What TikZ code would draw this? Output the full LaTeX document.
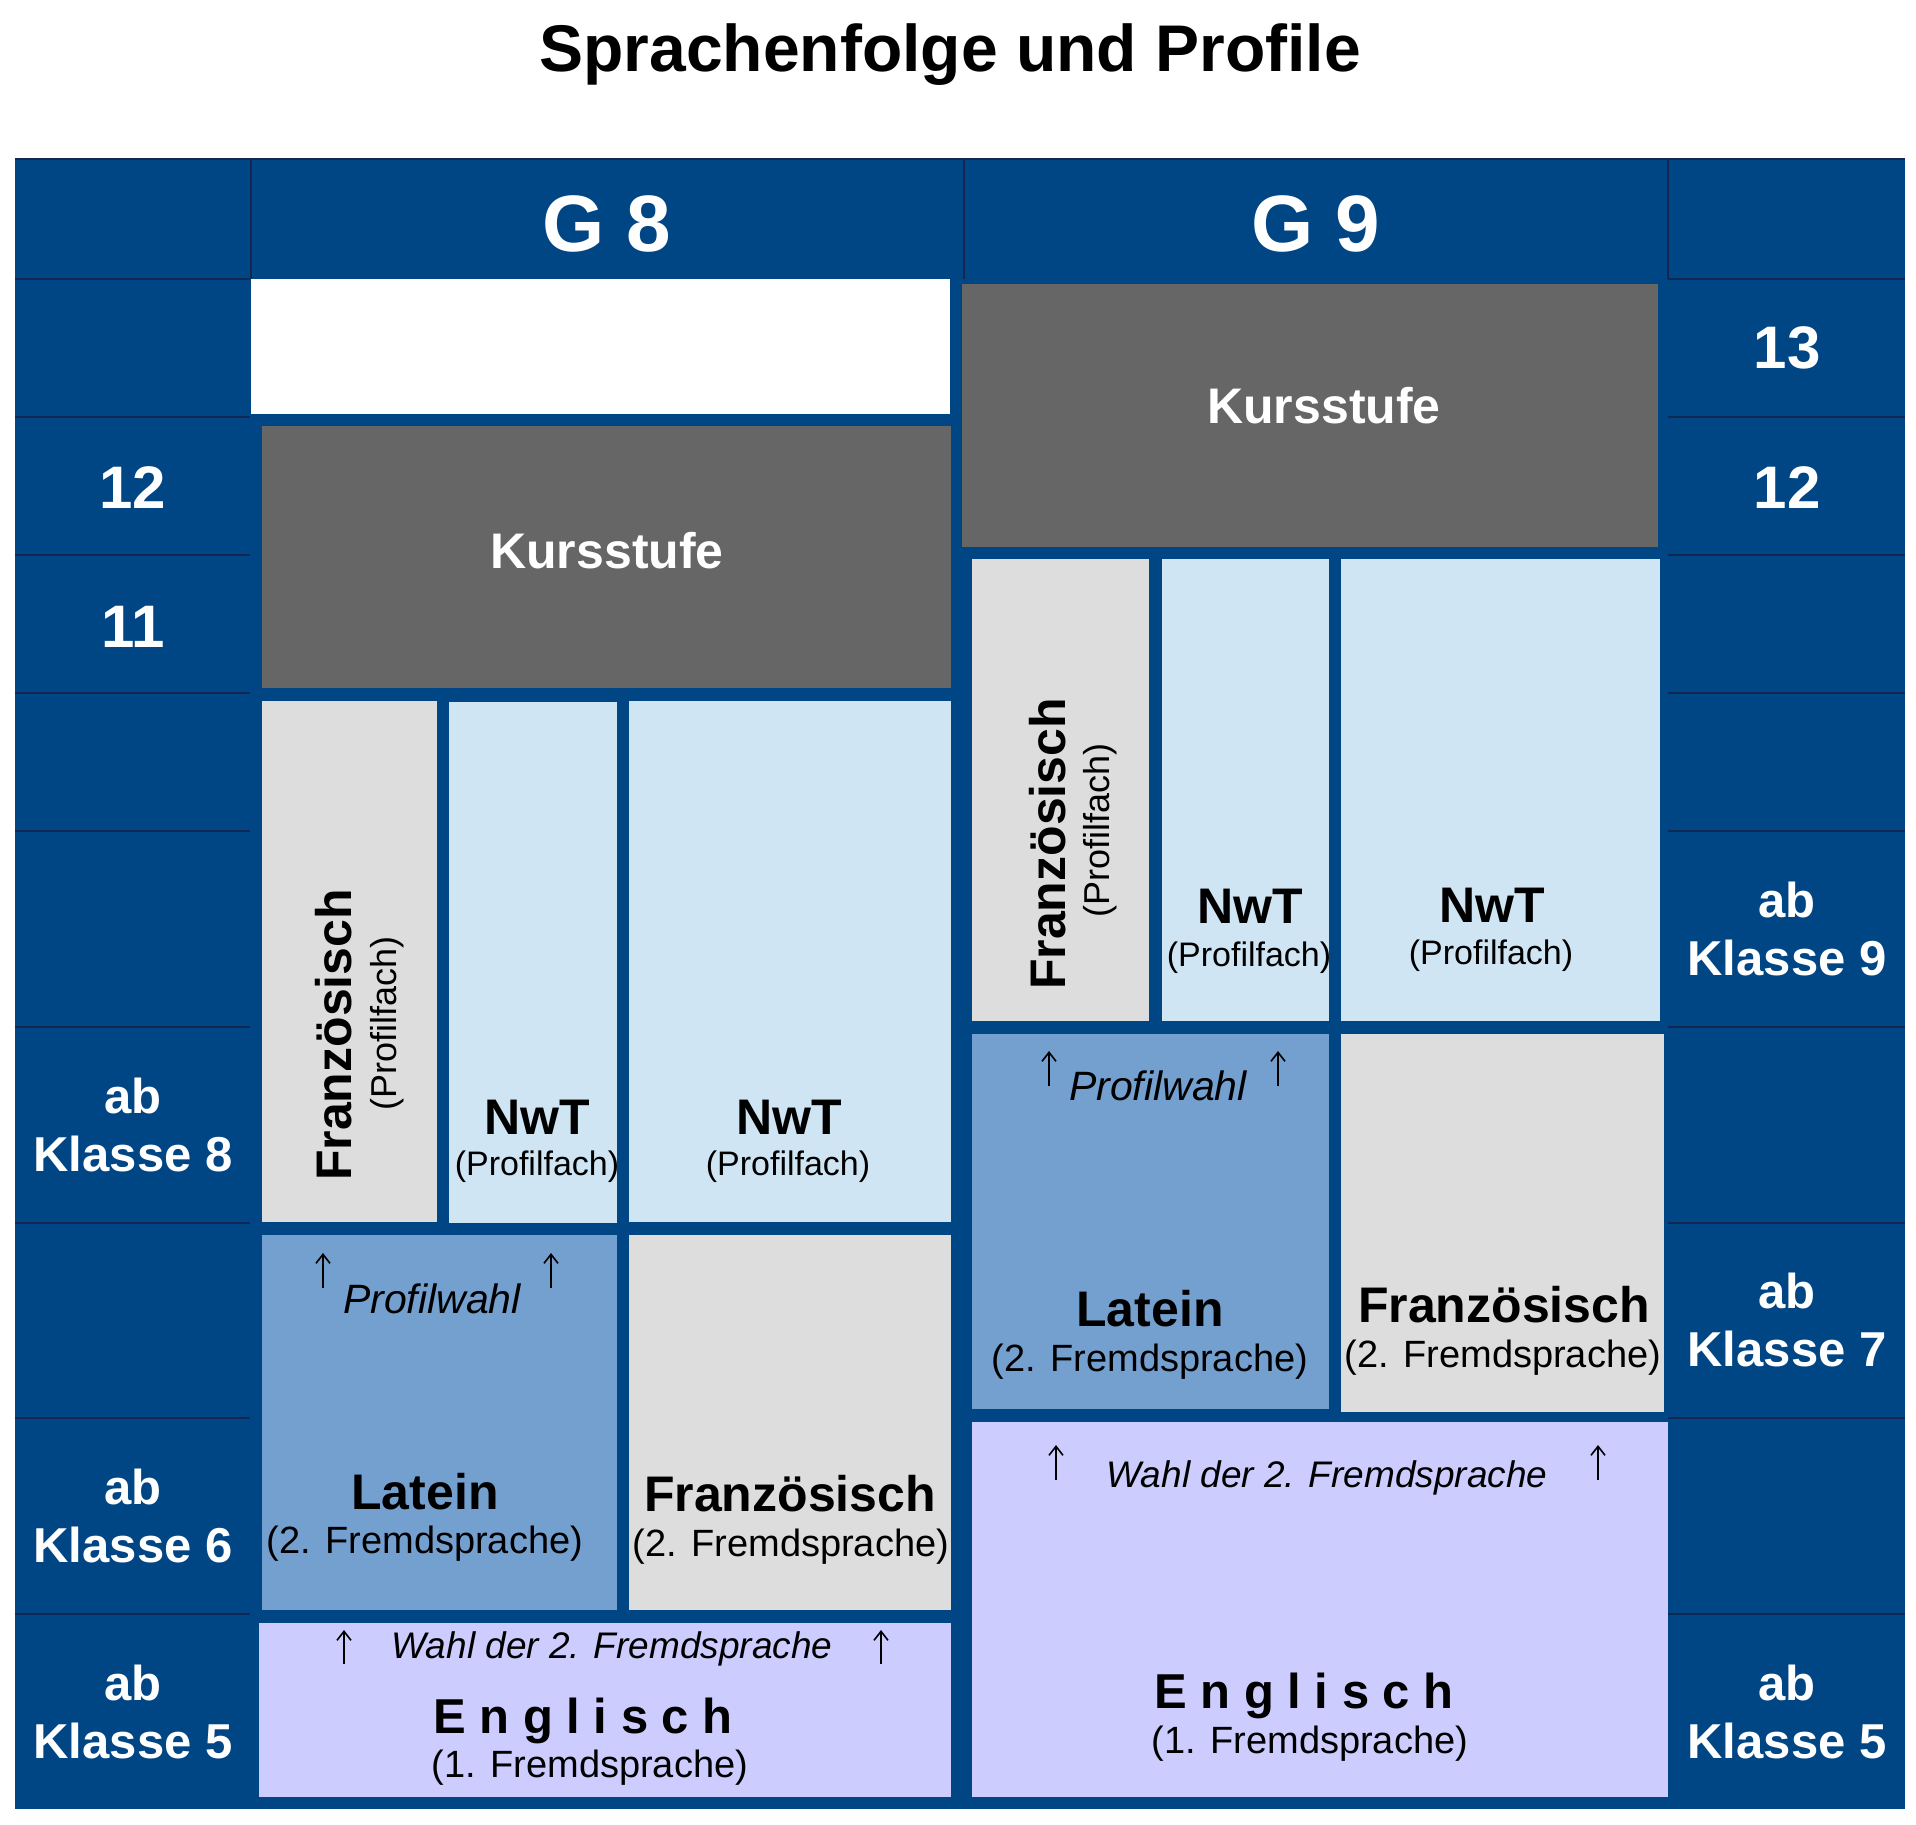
\documentclass[tikz,border=0pt]{standalone}
\usepackage{fontspec}
\setmainfont{Liberation Sans}
\usetikzlibrary{arrows.meta}
\definecolor{tblue}{RGB}{0,70,133}
\definecolor{tline}{RGB}{18,40,82}
\definecolor{kgray}{RGB}{102,102,102}
\definecolor{lgray}{RGB}{221,221,221}
\definecolor{lblue}{RGB}{207,229,244}
\definecolor{mblue}{RGB}{116,160,208}
\definecolor{lav}{RGB}{204,204,255}

\begin{document}
\begin{tikzpicture}[x=1pt,y=-1pt,
  lbl/.style={text=white,font=\bfseries\fontsize{49}{58}\selectfont,align=center},
  num/.style={anchor=base,text=white,font=\bfseries\fontsize{60}{72}\selectfont},
  fach/.style={anchor=base,font=\bfseries\fontsize{50}{60}\selectfont},
  sub/.style={anchor=base,font=\fontsize{38}{46}\selectfont},
  prof/.style={anchor=base,font=\fontsize{34}{40}\selectfont},
  wahl/.style={anchor=base,font=\itshape\fontsize{37}{44}\selectfont},
  pwahl/.style={anchor=base,font=\itshape\fontsize{41}{48}\selectfont},
  engl/.style={anchor=base,font=\bfseries\fontsize{49}{58}\selectfont},
  pfeil/.style={-{Straight Barb[length=9pt,width=14pt,line width=1.6pt]},line width=1.8pt},
  sep/.style={draw=tline,line width=1.5pt}]
\useasboundingbox (0,0) rectangle (1916,1824);
\fill[tblue] (15,159) rectangle (1905,1809);
\draw[sep] (15,159) -- (1905,159);
% Zeilen der Randspalten
\foreach \y in {279,417,555,693,831,1027,1223,1418,1614} {
  \draw[sep] (15,\y) -- (250,\y);
  \draw[sep] (1668,\y) -- (1905,\y);
}
\foreach \x in {251,964,1668} \draw[sep] (\x,159) -- (\x,279);

% G8
\fill[white] (251,279) rectangle (950,414);
\fill[kgray] (262,426) rectangle (951,688);
\fill[lgray] (262,701) rectangle (437,1222);
\fill[lblue] (449,702) rectangle (617,1223);
\fill[lblue] (629,701) rectangle (951,1222);
\fill[mblue] (262,1235) rectangle (617,1610);
\fill[lgray] (629,1235) rectangle (951,1610);
\fill[lav] (259,1623) rectangle (951,1797);
% G9
\fill[kgray] (962,284) rectangle (1658,547);
\fill[lgray] (972,559) rectangle (1149,1021);
\fill[lblue] (1162,559) rectangle (1329,1021);
\fill[lblue] (1341,559) rectangle (1660,1021);
\fill[mblue] (972,1034) rectangle (1329,1409);
\fill[lgray] (1341,1034) rectangle (1664,1412);
\fill[lav] (972,1422) rectangle (1668,1797);

\node[anchor=base,font=\bfseries\fontsize{66}{80}\selectfont] (titel) at (950,71) {Sprachenfolge und Profile};
\node[anchor=base,text=white,font=\bfseries\fontsize{80}{96}\selectfont] (g8) at (607,251) {G 8};
\node[anchor=base,text=white,font=\bfseries\fontsize{80}{96}\selectfont] (g9) at (1316,251) {G 9};
\node[fach,text=white] (ks8) at (607,568) {Kursstufe};
\node[fach,text=white] (ks9) at (1324,423) {Kursstufe};

\node[num] (n12l) at (133,508) {12};
\node[num] (n11) at (133,647) {11};
\node[num] (n13) at (1787,368) {13};
\node[num] (n12r) at (1787,508) {12};
\node[lbl] (k8) at (133,1125) {ab\\Klasse 8};
\node[lbl] (k6) at (133,1516) {ab\\Klasse 6};
\node[lbl] (k5l) at (133,1712) {ab\\Klasse 5};
\node[lbl] (k9) at (1787,929) {ab\\Klasse 9};
\node[lbl] (k7) at (1787,1320) {ab\\Klasse 7};
\node[lbl] (k5r) at (1787,1712) {ab\\Klasse 5};

% Profilfaecher
\node[fach,rotate=90] (fr8p) at (351,1035) {Französisch};
\node[prof,rotate=90,font=\fontsize{36}{42}\selectfont] (fr8ps) at (396,1023) {(Profilfach)};
\node[fach] (nw8a) at (537,1134) {NwT};
\node[prof] (nw8as) at (537,1175) {(Profilfach)};
\node[fach] (nw8b) at (789,1134) {NwT};
\node[prof] (nw8bs) at (788,1175) {(Profilfach)};
\node[fach,rotate=90] (fr9p) at (1065,844) {Französisch};
\node[prof,rotate=90,font=\fontsize{36}{42}\selectfont] (fr9ps) at (1109,830) {(Profilfach)};
\node[fach] (nw9a) at (1250,923) {NwT};
\node[prof] (nw9as) at (1249,966) {(Profilfach)};
\node[fach] (nw9b) at (1492,922) {NwT};
\node[prof] (nw9bs) at (1491,964) {(Profilfach)};

% 2. Fremdsprache
\node[pwahl] (pw8) at (432,1313) {Profilwahl};
\node[fach] (la8) at (425,1509) {Latein};
\node[sub] (la8s) at (425,1553) {(2. Fremdsprache)};
\node[fach] (fr8) at (790,1511) {Französisch};
\node[sub] (fr8s) at (791,1556) {(2. Fremdsprache)};
\node[pwahl] (pw9) at (1158,1100) {Profilwahl};
\node[fach] (la9) at (1150,1326) {Latein};
\node[sub] (la9s) at (1150,1371) {(2. Fremdsprache)};
\node[fach] (fr9) at (1504,1322) {Französisch};
\node[sub] (fr9s) at (1503,1367) {(2. Fremdsprache)};

% Englisch
\node[wahl] (wa8) at (612,1658) {Wahl der 2. Fremdsprache};
\node[engl] (en8) at (583,1733) {E n g l i s c h};
\node[sub] (en8s) at (590,1777) {(1. Fremdsprache)};
\node[wahl] (wa9) at (1327,1487) {Wahl der 2. Fremdsprache};
\node[engl] (en9) at (1304,1708) {E n g l i s c h};
\node[sub] (en9s) at (1310,1753) {(1. Fremdsprache)};

% Pfeile
\coordinate (p8a) at (323,1288); \coordinate (p8b) at (323,1253);
\coordinate (p8c) at (551,1288); \coordinate (p8d) at (551,1253);
\coordinate (p9a) at (1049,1086); \coordinate (p9b) at (1049,1051);
\coordinate (p9c) at (1278,1086); \coordinate (p9d) at (1278,1051);
\coordinate (w8a) at (344,1664); \coordinate (w8b) at (344,1630);
\coordinate (w8c) at (881,1664); \coordinate (w8d) at (881,1630);
\coordinate (w9a) at (1056,1480); \coordinate (w9b) at (1056,1445);
\coordinate (w9c) at (1598,1480); \coordinate (w9d) at (1598,1445);
\draw[pfeil] (p8a) -- (p8b);
\draw[pfeil] (p8c) -- (p8d);
\draw[pfeil] (p9a) -- (p9b);
\draw[pfeil] (p9c) -- (p9d);
\draw[pfeil] (w8a) -- (w8b);
\draw[pfeil] (w8c) -- (w8d);
\draw[pfeil] (w9a) -- (w9b);
\draw[pfeil] (w9c) -- (w9d);
\end{tikzpicture}
\end{document}
